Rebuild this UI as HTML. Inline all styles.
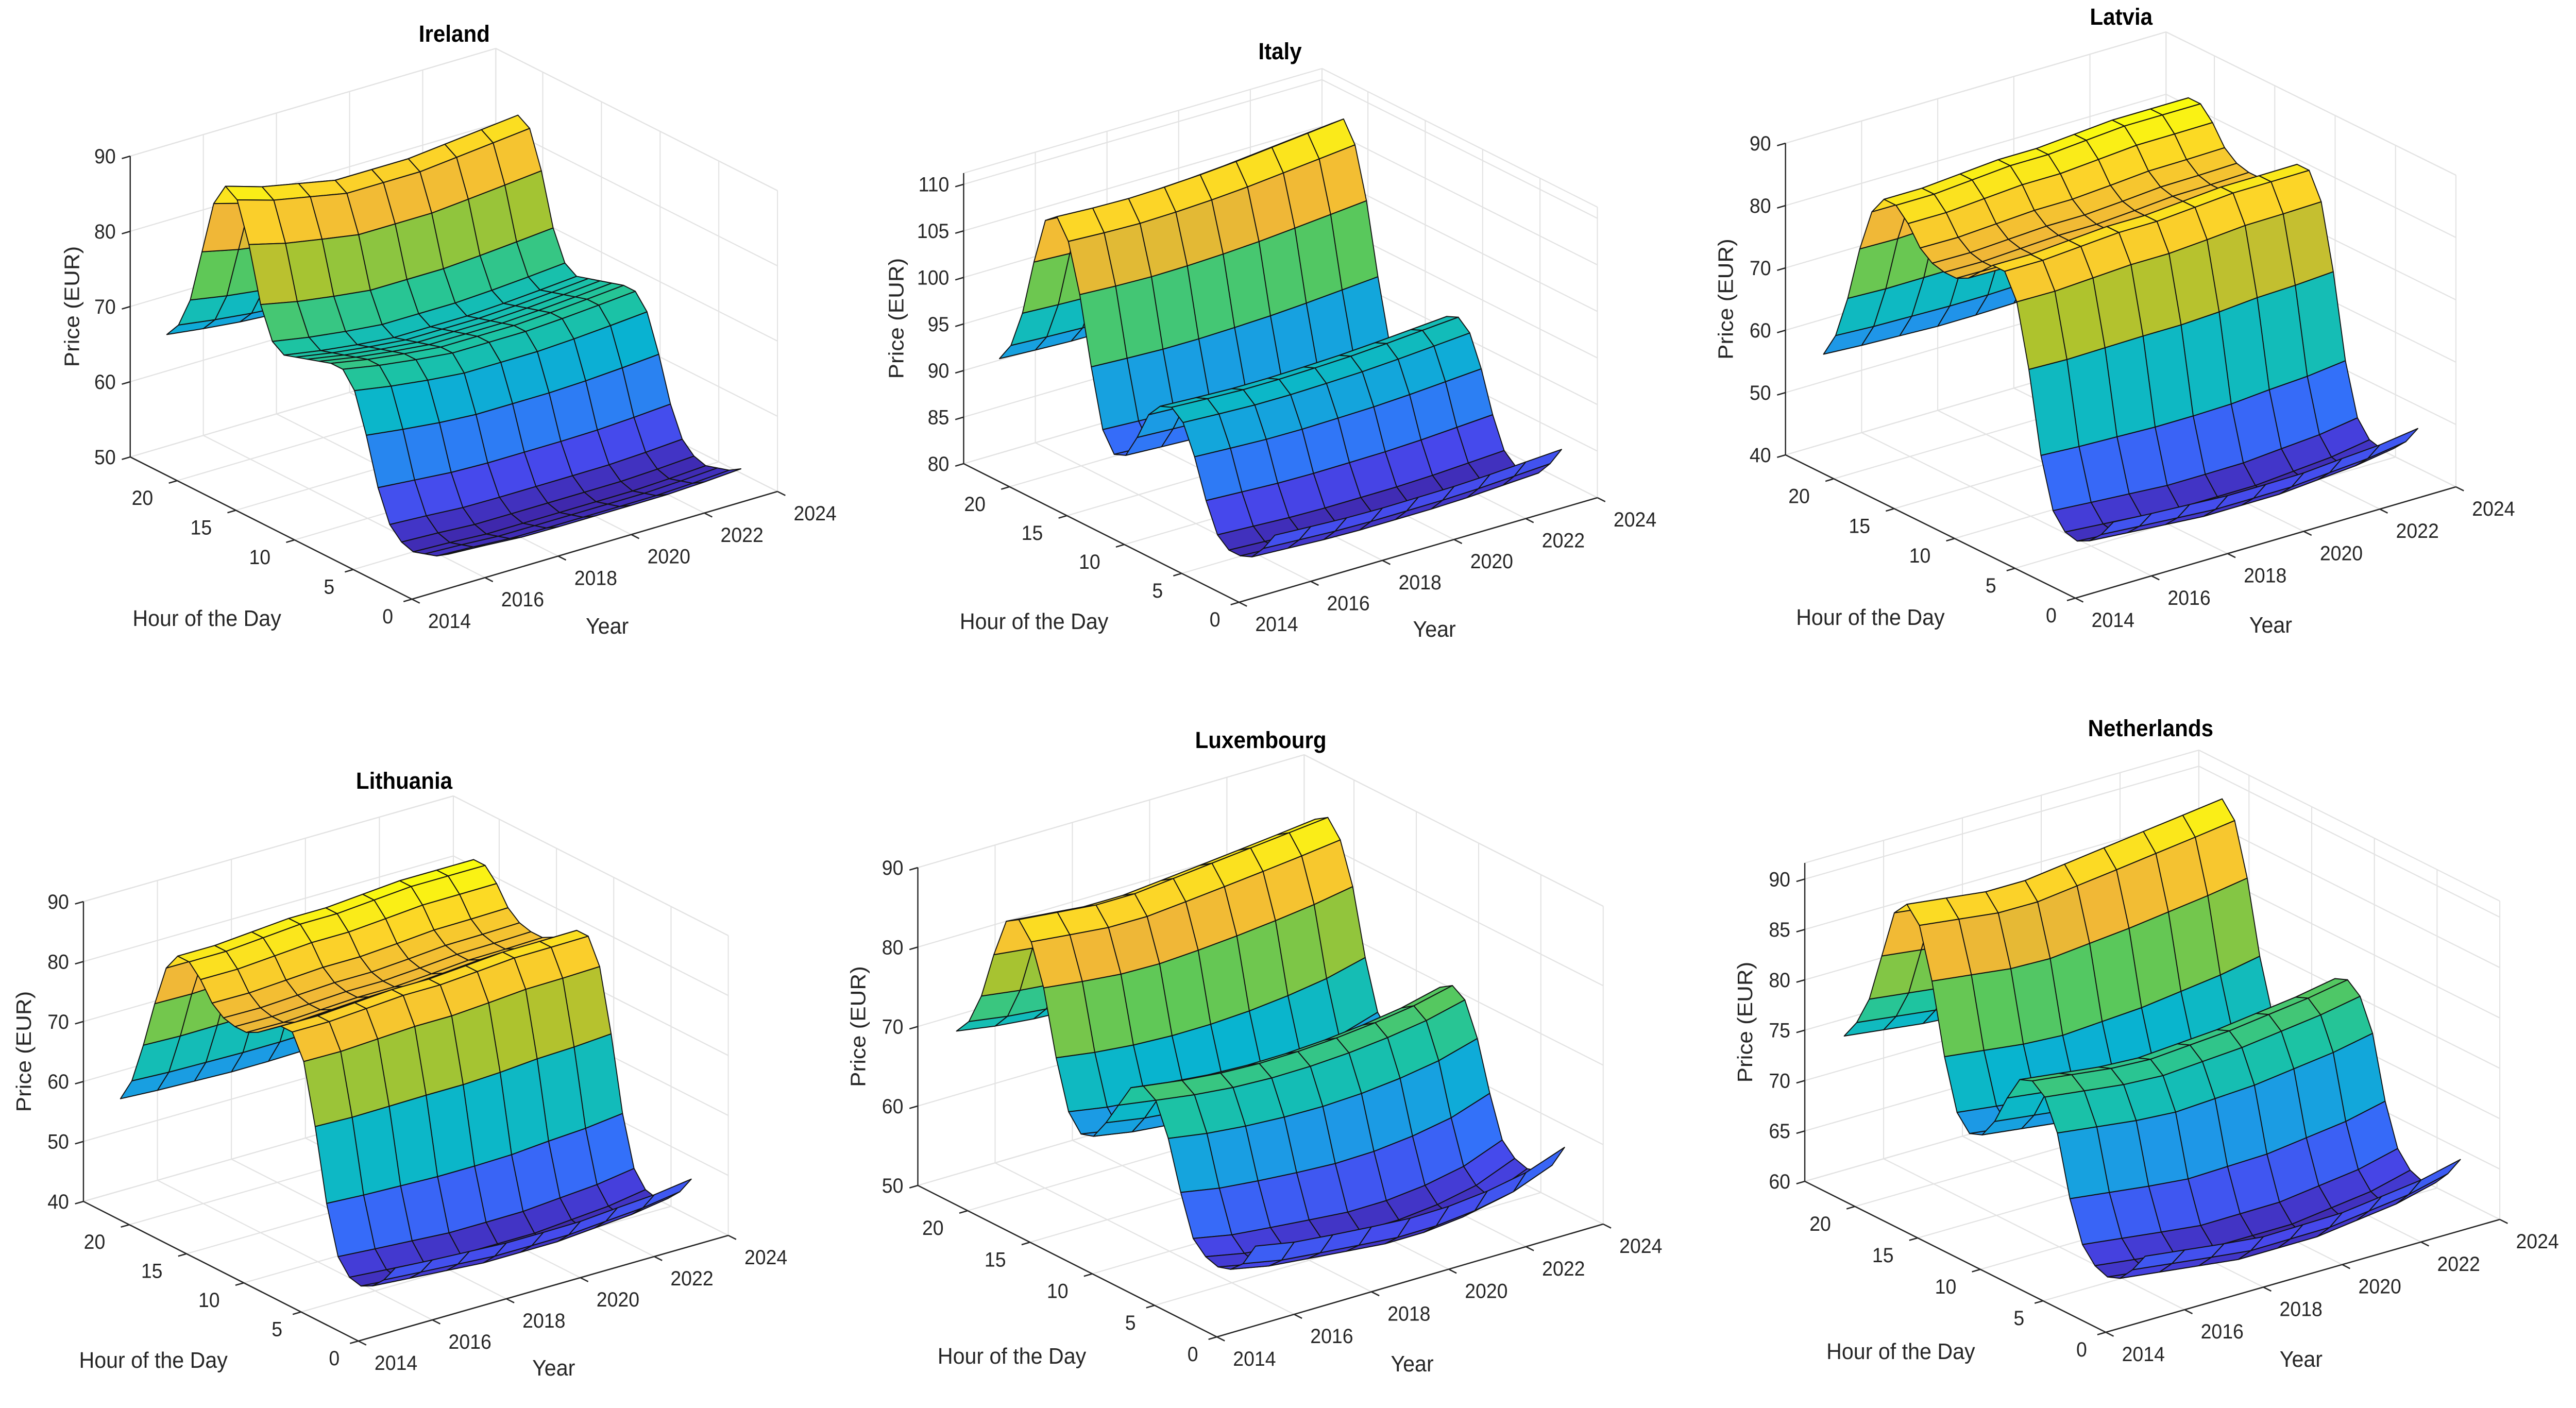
<!DOCTYPE html>
<html><head><meta charset="utf-8"><title>Hourly electricity price surfaces</title>
<style>
html,body{margin:0;padding:0;background:#fff;width:100%;height:100%;overflow:hidden;}
svg{display:block;font-family:"Liberation Sans",Arial,sans-serif;width:100vw;height:100vh;}
</style></head>
<body>
<svg id="fig" xmlns="http://www.w3.org/2000/svg" viewBox="0 0 5341 2733" preserveAspectRatio="none"></svg>
<script>
// ---- data ----
const hours = [0,1,2,3,4,5,6,7,8,9,10,11,12,13,14,15,16,17,18,19,20,21,22,23,24];
const years = [2015,2016,2017,2018,2019,2020,2021,2022,2023];
const hourTicks = [0,5,10,15,20];
const yearTicks = [2014,2016,2018,2020,2022,2024];

const irelandProfile = [54,53,52.5,52,52.5,54,58,64,69,71,71,70.5,70,69.5,69,70,74,81,86,87,84,77,70,66,64];
const irelandLow = [52.5,52.3,52,52,52,52,52,52.2,52.5];
const irelandPeak = [88.5,87,86,85,85,85,85.5,86,86.5];
const irelandZTicks = [50,60,70,80,90];

const italyProfile = [86,84,82.5,82,82,83,86,90,93,94,93.5,92,89,86.5,86,88,94,101,106,108,107,102,96,92,90];
const italyLow = [82,81.8,81.6,81.5,81.5,81.5,81.6,81.8,82];
const italyPeak = [108.5,108.3,108.2,108.3,108.5,108.8,109.2,109.6,110];
const italyZTicks = [80,85,90,95,100,105,110];

const latviaProfile = [50,47,45,44,44.5,47,55,68,78,82,82,80,78,77,77,77.5,79,82,84,84,81,74,65,58,54];
const latviaLow = [44.5,44,43.5,43,43,43,43.5,44,45];
const latviaPeak = [84,84,84.5,85,85,85.5,86,86,86];
const latviaZTicks = [40,50,60,70,80,90];

const lithuaniaProfile = [50,47,45,44,44.5,47,55,67,77,81,81,79.5,78,77,77,77.5,79,82,84,84,81,74,66,59,55];
const lithuaniaLow = [44.5,44,43.5,43,43,43,43.5,44,45];
const lithuaniaPeak = [84,84,84.5,85,85,85.5,86,86,86];
const lithuaniaZTicks = [40,50,60,70,80,90];

const luxembourgProfile = [60,57,55.5,55,55.5,57,62,68,72,73,72,69,66,63.5,63,65,71,79,84,86,85,80,74,70,68];
const luxembourgLow = [55,54,53.5,53,52.5,52.5,53,54,56];
const luxembourgPeak = [86,85.5,85,85,85.5,86,86.5,87,87.5];
const luxembourgZTicks = [50,60,70,80,90];

const netherlandsProfile = [66,64,62.5,62,62.5,64,68,74,77,78,77.5,75,72,70,69.5,71,76,83,88,89.5,88,83,78,75,73];
const netherlandsLow = [62.5,62,61.5,61,61,61,61.5,62,63];
const netherlandsPeak = [89.5,89,88.5,88.5,89,89.5,90,90.5,91];
const netherlandsZTicks = [60,65,70,75,80,85,90];

// ---- layout (geometry, not data) ----
const panels = [
 {key:'ireland', title:'Ireland', prof:irelandProfile, low:irelandLow, peak:irelandPeak, zt:irelandZTicks, zmin:50, zmax:90,
  O:[854,1163], H:[-584,-276], Y:[758,-209], ZL:584, tp:[942,81], pdx:-122},
 {key:'italy', title:'Italy', prof:italyProfile, low:italyLow, peak:italyPeak, zt:italyZTicks, zmin:80, zmax:111.2,
  O:[2569,1169], H:[-571,-269], Y:[743,-203], ZL:564, tp:[2654,115], pdx:-141},
 {key:'latvia', title:'Latvia', prof:latviaProfile, low:latviaLow, peak:latviaPeak, zt:latviaZTicks, zmin:40, zmax:90,
  O:[4303,1161], H:[-601,-278], Y:[789,-216], ZL:605, tp:[4398,48], pdx:-125},
 {key:'lithuania', title:'Lithuania', prof:lithuaniaProfile, low:lithuaniaLow, peak:lithuaniaPeak, zt:lithuaniaZTicks, zmin:40, zmax:90,
  O:[743,2603], H:[-570,-271], Y:[767,-205], ZL:582, tp:[838,1531], pdx:-125},
 {key:'luxembourg', title:'Luxembourg', prof:luxembourgProfile, low:luxembourgLow, peak:luxembourgPeak, zt:luxembourgZTicks, zmin:50, zmax:90,
  O:[2523,2595], H:[-620,-294], Y:[801,-219], ZL:617, tp:[2614,1452], pdx:-125},
 {key:'netherlands', title:'Netherlands', prof:netherlandsProfile, low:netherlandsLow, peak:netherlandsPeak, zt:netherlandsZTicks, zmin:60, zmax:91.6,
  O:[4366,2586], H:[-624,-293], Y:[817,-219], ZL:618, tp:[4459,1429], pdx:-125}
];

const NS = 'http://www.w3.org/2000/svg';
const svg = document.getElementById('fig');
const stops = [[0,[62,38,168]],[0.1,[71,71,235]],[0.2,[52,111,250]],[0.3,[31,150,232]],[0.4,[8,180,208]],[0.5,[30,196,160]],
 [0.6,[90,200,90]],[0.7,[175,195,45]],[0.8,[240,183,55]],[0.9,[252,212,40]],[1,[249,251,14]]];
function parula(t){
  t=Math.max(0,Math.min(1,t));
  for(let i=1;i<stops.length;i++){
    if(t<=stops[i][0]){
      const a=stops[i-1],b=stops[i],f=(t-a[0])/(b[0]-a[0]);
      const c=a[1].map((v,k)=>Math.round(v+(b[1][k]-v)*f));
      return 'rgb('+c.join(',')+')';
    }
  }
  return 'rgb(249,251,14)';
}
function mk(tag, parent){const e=document.createElementNS(NS,tag);parent.appendChild(e);return e;}

panels.forEach(p=>{
  const g = mk('g', svg);
  
  
  const hx=(h)=>h/24, yx=(y)=>(y-2014)/10;
  function P(h,y,z){
    const a=hx(h), b=yx(y), c=(z-p.zmin)/(p.zmax-p.zmin);
    return [p.O[0]+a*p.H[0]+b*p.Y[0], p.O[1]+a*p.H[1]+b*p.Y[1]-c*p.ZL];
  }
  function line(a,b,col,w,parent,name){
    const l=mk('line',parent);
    l.setAttribute('x1',a[0].toFixed(1));l.setAttribute('y1',a[1].toFixed(1));
    l.setAttribute('x2',b[0].toFixed(1));l.setAttribute('y2',b[1].toFixed(1));
    l.setAttribute('stroke',col);l.setAttribute('stroke-width',w);
    
    
    return l;
  }
  const grid = mk('g', g);
  
  
  const gc='#e2e2e2', gw=2.2;
  const zlines = p.zt.concat([p.zmax]);
  hourTicks.concat([24]).forEach(h=>{
    line(P(h,2014,p.zmin),P(h,2024,p.zmin),gc,gw,grid,'floor-gridline');
    line(P(h,2024,p.zmin),P(h,2024,p.zmax),gc,gw,grid,'wall-gridline');
  });
  yearTicks.forEach(y=>{
    line(P(0,y,p.zmin),P(24,y,p.zmin),gc,gw,grid,'floor-gridline');
    line(P(24,y,p.zmin),P(24,y,p.zmax),gc,gw,grid,'wall-gridline');
  });
  zlines.forEach(z=>{
    line(P(24,2014,z),P(24,2024,z),gc,gw,grid,'wall-gridline');
    line(P(24,2024,z),P(0,2024,z),gc,gw,grid,'wall-gridline');
  });
  const pmin=Math.min(...p.prof), pmax=Math.max(...p.prof);
  const Z = hours.map((h,i)=>years.map((y,j)=>p.low[j]+(p.prof[i]-pmin)/(pmax-pmin)*(p.peak[j]-p.low[j])));
  let cmin=Infinity,cmax=-Infinity;
  Z.forEach(r=>r.forEach(v=>{cmin=Math.min(cmin,v);cmax=Math.max(cmax,v);}));
  const faces=[];
  for(let i=0;i<hours.length-1;i++){
    for(let j=0;j<years.length-1;j++){
      const pts=[[i,j],[i+1,j],[i+1,j+1],[i,j+1]];
      const zavg=pts.reduce((s,q)=>s+Z[q[0]][q[1]],0)/4;
      const fc=P((hours[i]+hours[i+1])/2,(years[j]+years[j+1])/2,p.zmin);
      faces.push({pts,zavg,depth:fc[1]});
    }
  }
  faces.sort((a,b)=>a.depth-b.depth);
  const surf = mk('g', g);
  
  
  faces.forEach(f=>{
    const poly=mk('polygon',surf);
    poly.setAttribute('points', f.pts.map(q=>{const s=P(hours[q[0]],years[q[1]],Z[q[0]][q[1]]);return s[0].toFixed(1)+','+s[1].toFixed(1);}).join(' '));
    poly.setAttribute('fill', parula((f.zavg-cmin)/(cmax-cmin)));
    poly.setAttribute('stroke','#111');
    poly.setAttribute('stroke-width','2');
    poly.setAttribute('stroke-linejoin','round');
    
    
  });
  const ax = mk('g', g);
  
  
  const ac='#262626', aw=2.6;
  line(P(24,2014,p.zmin),P(24,2014,p.zmax),ac,aw,ax,'z-axis-line');
  line(P(0,2014,p.zmin),P(24,2014,p.zmin),ac,aw,ax,'hour-axis-line');
  line(P(0,2014,p.zmin),P(0,2024,p.zmin),ac,aw,ax,'year-axis-line');
  const yl=Math.hypot(p.Y[0],p.Y[1]), hl=Math.hypot(p.H[0],p.H[1]);
  const ty=[-p.Y[0]/yl*18,-p.Y[1]/yl*18], th=[-p.H[0]/hl*18,-p.H[1]/hl*18];
  function txt(x,y,s,size,anchor,weight,parent,name,rot){
    const t=mk('text',parent);
    t.setAttribute('x',x.toFixed(1));t.setAttribute('y',y.toFixed(1));
    t.setAttribute('font-size',size);t.setAttribute('text-anchor',anchor);
    t.setAttribute('fill', weight==='bold'?'#000':'#262626');
    if(weight==='bold') t.setAttribute('font-weight','bold');
    if(rot) t.setAttribute('transform','rotate(-90 '+x.toFixed(1)+' '+y.toFixed(1)+')');
    
    
    t.textContent=s;
    return t;
  }
  p.zt.forEach(z=>{
    const a=P(24,2014,z);
    line(a,[a[0]+ty[0],a[1]+ty[1]],ac,aw,ax,'z-tick');
    txt(a[0]-30,a[1]+14,String(z),40,'end','normal',ax,'z-tick-label');
  });
  hourTicks.forEach(h=>{
    const a=P(h,2014,p.zmin);
    line(a,[a[0]+ty[0],a[1]+ty[1]],ac,aw,ax,'hour-tick');
    const dx = String(h).length>1 ? -72 : -50;
    txt(a[0]+dx,a[1]+47,String(h),40,'middle','normal',ax,'hour-tick-label');
  });
  yearTicks.forEach(y=>{
    const a=P(0,y,p.zmin);
    line(a,[a[0]+th[0],a[1]+th[1]],ac,aw,ax,'year-tick');
    txt(a[0]+78,a[1]+56,String(y),40,'middle','normal',ax,'year-tick-label');
  });
  txt(p.O[0]-425,p.O[1]+52,'Hour of the Day',44,'middle','normal',ax,'hour-axis-title');
  txt(p.O[0]+405,p.O[1]+67,'Year',44,'middle','normal',ax,'year-axis-title');
  const zx=p.O[0]+p.H[0]+p.pdx, zbot=P(24,2014,p.zmin)[1], ztop=P(24,2014,p.zmax)[1];
  txt(zx+16,(zbot+ztop)/2,'Price (EUR)',44,'middle','normal',ax,'z-axis-title',true);
  txt(p.tp[0],p.tp[1],p.title,45,'middle','bold',g,'chart-title');
});
</script>
</body></html>
